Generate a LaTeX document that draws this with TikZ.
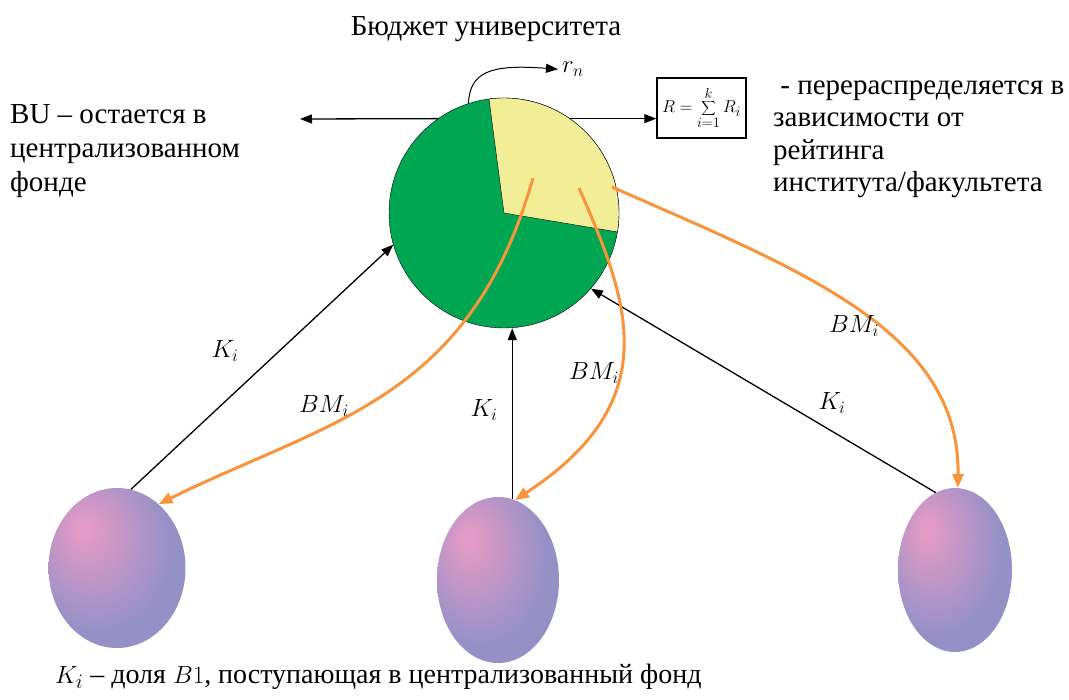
\documentclass[tikz,border=0pt]{standalone}
\usepackage{fontspec}
\setmainfont{Liberation Serif}
\definecolor{pie}{HTML}{00A651}
\definecolor{share}{HTML}{F2EE98}
\definecolor{flow}{HTML}{F7943C}
\definecolor{pinku}{HTML}{E29AC6}
\definecolor{blueu}{HTML}{9591C7}
\usetikzlibrary{arrows.meta,shapes.geometric}
\pgfdeclareradialshading{unitshade}{\pgfpoint{-13bp}{13bp}}{color(0bp)=(pinku); color(3bp)=(pinku); color(27bp)=(blueu); color(60bp)=(blueu)}
\tikzset{
  txt/.style={font=\fontsize{29}{34}\selectfont,inner sep=0,align=left},
  lbl/.style={font=\fontsize{27}{34}\selectfont,inner sep=0},
  unit/.style={ellipse,inner sep=0,shading=unitshade},
  arr/.style={-{Triangle[length=12pt,width=9pt]},line width=1.3pt},
  oarr/.style={-{Triangle[length=14pt,width=11pt]},line width=3pt,flow}
}
\begin{document}
\begin{tikzpicture}[x=1pt,y=-1pt]
    \useasboundingbox (0,0) rectangle (1069,700);
    \node[circle,draw,thin,fill=pie,minimum size=230pt,inner sep=0] (bud) at (504,213) {};
    \fill[share,draw=black,thin] (bud.center) -- ++(9.5:115) arc[start angle=9.5,end angle=-97.5,radius=115] -- cycle;
    \node[txt,anchor=base] (ttl) at (486,36) {Бюджет университета};
    \node[lbl,anchor=base west] (rn) at (562,73) {$r_n$};
    \node[draw,line width=1.5pt,minimum width=89pt,minimum height=60pt,inner sep=0] (frm) at (701.5,108)
         {\fontsize{19}{22}\selectfont$\displaystyle R=\sum_{i=1}^{k}R_i$};
    \node[txt,anchor=base west] (bu) at (10,192) {BU – остается в\\централизованном\\фонде};
    \node[txt,anchor=base west,font=\fontsize{29}{32.5}\selectfont] (rd) at (773,192)
         {\ - перераспределяется в\\зависимости от\\рейтинга\\института/факультета};
    \coordinate (bl) at (300,119);
    \draw[arr] (bud.125) -- (bl);
    \draw[arr] (bud.55) -- (bud.55 -| frm.west);
    \draw[arr,line width=1pt,shorten >=4pt] (bud.108) .. controls (470,72) and (490,64) .. (rn.west);
    \node[unit,minimum width=137pt,minimum height=160pt] (lf) at (117,568) {};
    \node[unit,minimum width=122pt,minimum height=166pt] (md) at (498,580) {};
    \node[unit,minimum width=114pt,minimum height=164pt] (rt) at (955,570) {};
    \draw[arr] (lf.80) -- (bud.196);
    \draw[arr] (md.80) -- (md.80 |- bud.south);
    \draw[arr] (rt.104) -- (bud.-41);
    \coordinate (s1) at (533,178);
    \coordinate (s2) at (579,188);
    \coordinate (s3) at (612,187);
    \draw[oarr] (s1) .. controls (470,400) and (330,420) .. (lf.57);
    \draw[oarr] (s2) .. controls (628,300) and (668,400) .. (md.78);
    \draw[oarr] (s3) .. controls (800,270) and (960,330) .. (rt.88);
    \node[lbl] (k1) at (225,351) {$K_i$};
    \node[lbl] (k2) at (484,410) {$K_i$};
    \node[lbl] (k3) at (832,403) {$K_i$};
    \node[lbl] (b1) at (324,406) {$BM_i$};
    \node[lbl] (b2) at (594,373) {$BM_i$};
    \node[lbl] (b3) at (854,326) {$BM_i$};
    \node[txt,anchor=base west,font=\fontsize{28}{34}\selectfont] (note) at (55,683)
         {$K_i$ – доля $B1$, поступающая в централизованный фонд};
\end{tikzpicture}
\end{document}
